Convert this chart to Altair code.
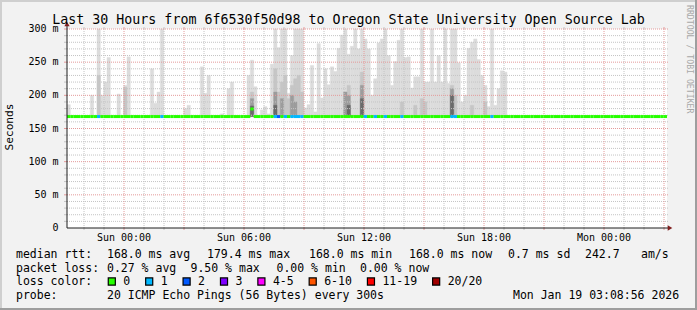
import altair as alt
import pandas as pd

# ---------------- data ----------------
START = "2026-01-17 21:08:56"
END = "2026-01-19 03:08:56"
STEP_MINUTES = 10          # one column of smoke per 10 minutes
N_STEPS = 180              # 30 hours
MIN_RTT = 168.0            # bottom of the smoke (ms)

# top of the light smoke per step (ms); 0 = no smoke above the median
smoke_max = [
    186, 0, 0, 0, 0, 0, 0, 200, 0, 300,
    200, 220, 257, 0, 0, 202, 0, 215, 258, 0,
    0, 0, 0, 0, 0, 240, 188, 205, 300, 0,
    0, 0, 0, 0, 0, 180, 185, 0, 0, 0,
    243, 203, 230, 0, 0, 0, 172, 0, 210, 220,
    0, 0, 0, 0, 230, 253, 213, 0, 178, 183,
    172, 247, 300, 272, 300, 300, 203, 260, 300, 300,
    300, 181, 186, 245, 175, 278, 196, 240, 216, 243,
    236, 271, 291, 300, 262, 274, 300, 270, 300, 285,
    270, 200, 225, 279, 285, 300, 260, 215, 251, 283,
    300, 257, 258, 211, 228, 228, 300, 220, 220, 300,
    220, 260, 220, 300, 218, 300, 300, 249, 190, 200,
    271, 280, 285, 254, 230, 215, 183, 300, 185, 210,
    237, 235,
]
# darker inner smoke layers {step: top ms}
smoke_mid = {9: 230, 17: 212, 55: 205, 62: 240, 63: 205, 64: 220, 65: 230, 66: 195,
             67: 215, 68: 225, 69: 230, 70: 205, 83: 205, 84: 215, 88: 235, 100: 190,
             104: 185, 106: 195, 107: 190, 115: 215, 116: 200, 121: 185, 125: 190}
smoke_dark = {55: 195, 62: 205, 64: 195, 67: 200, 68: 190, 83: 205, 84: 200, 88: 215, 115: 210}
smoke_core = {55: 184, 62: 185, 84: 185, 88: 195, 115: 200}

# median rtt per step (ms) where it differs from 168.0
median_override = {55: 179.4}
# lost pings (of 20) per step
loss_count = {9: 1, 28: 1, 62: 1, 63: 2, 65: 1, 67: 1, 68: 1, 69: 1, 70: 1,
              89: 1, 92: 1, 95: 1, 100: 1, 115: 1, 116: 1, 127: 1}

loss_labels = ["0", "1", "2", "3", "4-5", "6-10", "11-19", "20/20"]
loss_upper = [0, 1, 2, 3, 5, 10, 19, 20]
loss_colors = ["#26ff00", "#00b8ff", "#0059ff", "#7e00ff", "#ff00ff", "#ff5500", "#ff0000", "#a10000"]

median_stats = [("168.0", "avg"), ("179.4", "max"), ("168.0", "min"), ("168.0", "now")]
median_sd = "0.7"
am_s = "242.7"
loss_stats = [("0.27", "avg"), ("9.50", "max"), ("0.00", "min"), ("0.00", "now")]
probe_text = "20 ICMP Echo Pings (56 Bytes) every 300s"
title_text = "Last 30 Hours from 6f6530f50d98 to Oregon State University Open Source Lab"
y_ticks = [0, 50, 100, 150, 200, 250, 300]

# ---------------- layout / style ----------------
FONT = "DejaVu Sans Mono"
PX0, PY0, PW, PH = 67, 29, 600, 199
BG = "#f2f2f2"
SMOKE_COLORS = ["#dcdcdc", "#c6c6c6", "#9c9c9c", "#6a6a6a"]
MINOR = "#c4c4c4"
MAJOR = "#e49a9a"

start = pd.Timestamp(START)
end = pd.Timestamp(END)
HOUR = pd.Timedelta(hours=1)
total_h = (end - start) / HOUR
step_h = STEP_MINUTES / 60.0

xs = alt.Scale(domain=[0, total_h], nice=False, zero=False)
ys = alt.Scale(domain=[0, 300], nice=False, zero=False)


def X(f):
    return alt.X(f, type="quantitative", scale=xs, axis=None)


def Y(f):
    return alt.Y(f, type="quantitative", scale=ys, axis=None)


def ax(v):
    return alt.value(v - PX0)


def ay(v):
    return alt.value(v - PY0)


def loss_color(n):
    for up, c in zip(loss_upper, loss_colors):
        if n <= up:
            return c
    return loss_colors[-1]


steps = pd.DataFrame({"j": range(N_STEPS)})
steps["x0"] = steps.j * step_h
steps["x1"] = (steps.j + 1) * step_h
steps["median"] = [median_override.get(j, MIN_RTT) for j in steps.j]
steps["col"] = [loss_color(loss_count.get(j, 0)) for j in steps.j]


def smoke_frame(src):
    items = src.items() if isinstance(src, dict) else enumerate(src)
    rows = [{"x0": j * step_h, "x1": (j + 1) * step_h, "lo": MIN_RTT, "hi": min(v, 300)}
            for j, v in items if v and v > MIN_RTT]
    return pd.DataFrame(rows)


layers = []
for src, colr in zip([smoke_max, smoke_mid, smoke_dark, smoke_core], SMOKE_COLORS):
    layers.append(alt.Chart(smoke_frame(src)).mark_rect(color=colr, stroke=colr, strokeWidth=0.4).encode(
        x=X("x0"), x2="x1", y=Y("lo"), y2="hi"))

# grid
hours = pd.date_range(start.ceil("h"), end, freq="h")
vgrid = pd.DataFrame({"h": (hours - start) / HOUR, "major": (hours.hour % 3 == 0)})
hvals = pd.DataFrame({"v": list(range(10, 301, 10))})
hvals["major"] = hvals.v % 50 == 0

for is_major, colr in [(False, MINOR), (True, MAJOR)]:
    vg = vgrid[vgrid.major == is_major]
    hg = hvals[hvals.major == is_major]
    layers.append(alt.Chart(vg).mark_rule(color=colr, strokeDash=[1, 1], strokeWidth=1).encode(
        x=X("h"), y=alt.value(0), y2=alt.value(PH)))
    layers.append(alt.Chart(vg).mark_rule(color=colr, strokeWidth=1).encode(
        x=X("h"), y=alt.value(PH), y2=alt.value(PH + 2)))
    layers.append(alt.Chart(vg).mark_rule(color=colr, strokeWidth=1).encode(
        x=X("h"), y=alt.value(-2), y2=alt.value(0)))
    layers.append(alt.Chart(hg).mark_rule(color=colr, strokeDash=[1, 1], strokeWidth=1).encode(
        y=Y("v"), x=alt.value(0), x2=alt.value(PW + 1)))
    layers.append(alt.Chart(hg).mark_rule(color=colr, strokeWidth=1).encode(
        y=Y("v"), x=alt.value(-3), x2=alt.value(0)))

# median line coloured by loss
layers.append(alt.Chart(steps).mark_rule(strokeWidth=3).encode(
    x=X("x0"), x2="x1", y=Y("median"), color=alt.Color("col:N", scale=None)))

one = pd.DataFrame({"k": [0]})

# axes lines and arrows
layers.append(alt.Chart(one).mark_rule(color="#1f1f1f", strokeWidth=1).encode(
    x=alt.value(0), y=alt.value(PH), y2=ay(25)))
layers.append(alt.Chart(one).mark_rule(color="#1f1f1f", strokeWidth=1).encode(
    y=alt.value(PH), x=alt.value(0), x2=ax(669)))
layers.append(alt.Chart(one).mark_point(shape="triangle-up", filled=True, size=28, color="#801f1f", opacity=1).encode(
    x=alt.value(0), y=ay(24)))
layers.append(alt.Chart(one).mark_point(shape="triangle-right", filled=True, size=28, color="#801f1f", opacity=1).encode(
    x=ax(670), y=alt.value(PH)))

# axis labels
ylab = pd.DataFrame({"v": y_ticks})
ylab["t"] = [("%d m" % v) if v else "0" for v in y_ticks]
layers.append(alt.Chart(ylab).mark_text(font=FONT, fontSize=10, align="right", baseline="middle", color="#000").encode(
    y=Y("v"), x=ax(58.5), text="t:N"))

xl = vgrid[hours.hour % 6 == 0].copy()
xl["t"] = hours[hours.hour % 6 == 0].strftime("%a %H:%M")
layers.append(alt.Chart(xl).mark_text(font=FONT, fontSize=10, align="center", baseline="middle", color="#000").encode(
    x=X("h"), y=ay(238), text="t:N"))


def text_at(s, x, y, size=11.5, align="left", angle=0, color="#000000"):
    return alt.Chart(one).mark_text(text=s, font=FONT, fontSize=size, align=align, baseline="middle",
                                    angle=angle, color=color).encode(x=ax(x), y=ay(y))


layers.append(text_at(title_text, 348.5, 19.5, size=13.3, align="center"))
layers.append(text_at("Seconds", 10, 127, size=11.2, align="center", angle=270))
layers.append(text_at("RRDTOOL / TOBI OETIKER", 689, 5, size=8.2, align="left", angle=90, color="#a8a8a8"))

# legend rows
ROW_Y = [255, 268.5, 282, 295.5]
row1_x = [107, 207, 309, 409]
layers.append(text_at("median rtt:", 16, ROW_Y[0]))
for (val, lab), x in zip(median_stats, row1_x):
    layers.append(text_at("%s ms %s" % (val, lab), x, ROW_Y[0]))
layers.append(text_at("%s ms sd" % median_sd, 508, ROW_Y[0]))
layers.append(text_at(am_s, 585, ROW_Y[0]))
layers.append(text_at("am/s", 641, ROW_Y[0]))

row2_x = [107, 190.5, 276.5, 360]
layers.append(text_at("packet loss:", 16, ROW_Y[1]))
for (val, lab), x in zip(loss_stats, row2_x):
    layers.append(text_at("%s %% %s" % (val, lab), x, ROW_Y[1]))

layers.append(text_at("loss color:", 16, ROW_Y[2]))
CH = 6.95
bx = 108.3
for lab, colr in zip(loss_labels, loss_colors):
    layers.append(alt.Chart(one).mark_square(size=50, color=colr, opacity=1, stroke="#000", strokeWidth=1.2).encode(
        x=ax(bx + 3.5), y=ay(ROW_Y[2] - 0.5)))
    layers.append(text_at(lab, bx + 15, ROW_Y[2]))
    bx += 37.4 + (len(lab) - 1) * CH

layers.append(text_at("probe:", 16, ROW_Y[3]))
layers.append(text_at(probe_text, 107, ROW_Y[3]))
layers.append(text_at(end.strftime("%a %b %d %H:%M:%S %Y"), 513, ROW_Y[3]))

# frame (shade A top/left, shade B bottom/right)
layers.append(alt.Chart(one).mark_rule(color="#cfcfcf", strokeWidth=2).encode(x=ax(0), x2=ax(697), y=ay(1)))
layers.append(alt.Chart(one).mark_rule(color="#cfcfcf", strokeWidth=2).encode(x=ax(1), y=ay(0), y2=ay(310)))
layers.append(alt.Chart(one).mark_rule(color="#9e9e9e", strokeWidth=2).encode(x=ax(0), x2=ax(697), y=ay(309)))
layers.append(alt.Chart(one).mark_rule(color="#9e9e9e", strokeWidth=2).encode(x=ax(696), y=ay(0), y2=ay(310)))

chart = alt.layer(*layers).properties(
    width=PW, height=PH,
    padding={"left": PX0, "top": PY0, "right": 697 - PX0 - PW, "bottom": 310 - PY0 - PH},
    autosize=alt.AutoSizeParams(type="none"),
    background=BG,
).configure_view(stroke=None, fill="#ffffff")

chart.save("out.html", embed_options={"renderer": "svg", "actions": False})
